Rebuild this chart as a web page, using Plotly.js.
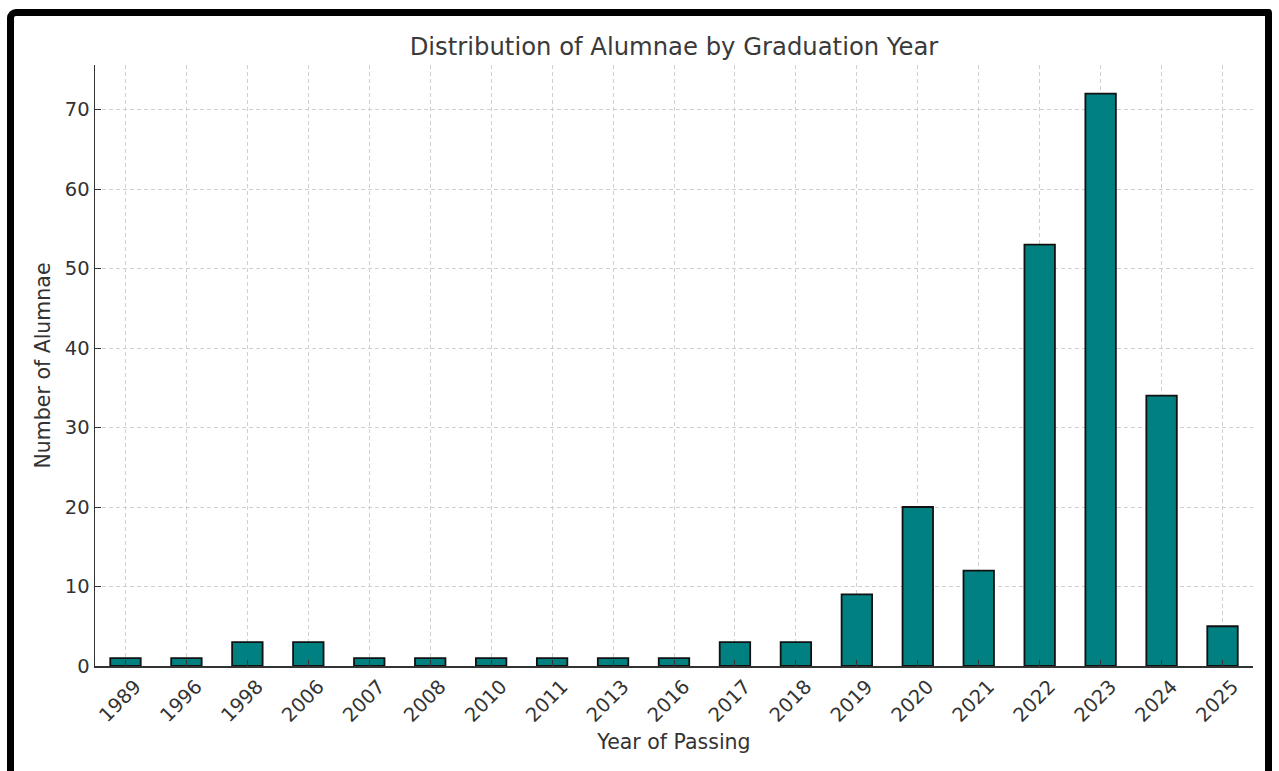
<!DOCTYPE html>
<html>
<head>
<meta charset="utf-8">
<script src="https://cdn.plot.ly/plotly-3.0.1.min.js"></script>
<style>
  html, body { margin:0; padding:0; width:1279px; height:771px; overflow:hidden; background:#fff; }
  #chart { position:absolute; left:0; top:0; width:1279px; height:771px; }
  #frame { position:absolute; left:7px; top:9px; width:1251px; height:800px;
           border:7px solid #000; border-bottom:none; border-top-left-radius:9px; border-top-right-radius:4px;
           pointer-events:none; }
</style>
</head>
<body>
<div id="chart"></div>
<div id="frame"></div>
<script>
const years = ["1989","1996","1998","2006","2007","2008","2010","2011","2013","2016","2017","2018","2019","2020","2021","2022","2023","2024","2025"];
const counts = [1,1,3,3,1,1,1,1,1,1,3,3,9,20,12,53,72,34,5];
const yTicks = [0,10,20,30,40,50,60,70];

const txt = '#333333';
const fam = 'DejaVu Sans, sans-serif';

Plotly.newPlot('chart', [{
  type: 'bar',
  x: years,
  y: counts,
  marker: { color: '#008080', line: { color: '#111111', width: 1.8 } },
  hoverinfo: 'x+y'
}], {
  width: 1279, height: 771,
  margin: { l: 95, r: 26, t: 65, b: 105, pad: 0 },
  paper_bgcolor: '#ffffff', plot_bgcolor: '#ffffff',
  bargap: 0.5,
  showlegend: false,
  font: { family: fam, color: txt, size: 19 },
  title: { text: 'Distribution of Alumnae by Graduation Year', font: { family: fam, size: 24.3, color: '#3a3a3a' },
           x: 0.5, xref: 'paper', y: 1 - 46/771, yref: 'container', yanchor: 'middle' },
  xaxis: {
    type: 'category', range: [-0.5, 18.5],
    tickangle: -45, tickfont: { size: 19.5, color: txt },
    ticklabelshift: 10,
    ticks: 'inside', ticklen: 6, tickcolor: '#333', tickwidth: 1,
    showline: true, linecolor: '#333', linewidth: 1.5,
    showgrid: true, gridcolor: '#d0d0d0', griddash: '4px,3px', gridwidth: 1,
    layer: 'above traces', zeroline: false, automargin: false,
    title: { text: 'Year of Passing', font: { size: 20.5, color: txt }, standoff: 9 }
  },
  yaxis: {
    range: [0, 75.6], tickvals: yTicks,
    tickfont: { size: 19.5, color: txt },
    ticks: 'inside', ticklen: 6, tickcolor: '#333', tickwidth: 1,
    showline: true, linecolor: '#333', linewidth: 1.5,
    showgrid: true, gridcolor: '#d0d0d0', griddash: '4px,3px', gridwidth: 1,
    layer: 'above traces', zeroline: false, automargin: false,
    title: { text: 'Number of Alumnae', font: { size: 20.5, color: txt }, standoff: 8 }
  }
}, { displayModeBar: false, staticPlot: true });
</script>
</body>
</html>
